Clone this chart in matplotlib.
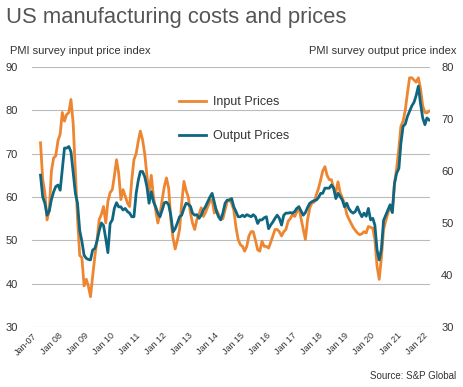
import matplotlib.pyplot as plt
import matplotlib.dates as mdates
import numpy as np
import pandas as pd

plt.rcParams['font.family'] = ['Liberation Sans', 'DejaVu Sans']

# monthly, May 2007 - Apr 2022
months = pd.date_range('2007-05-01', periods=180, freq='MS')

input_prices = [
    72.5, 64, 61, 54.7, 57, 66, 69, 69.5,                              # 2007
    73, 74.5, 79.5, 77.5, 79, 79.5, 82.5, 77, 66, 55, 46.5, 46,        # 2008
    39.5, 41, 39.5, 37, 41.7, 46.3, 50, 54.8, 56, 57.8, 54, 59,        # 2009
    61, 61.7, 64.8, 68.6, 65.5, 59.4, 61.7, 60.2, 58.6, 57.8, 64, 68.6,  # 2010
    70, 73, 75.2, 73.2, 70, 65, 61, 65, 60, 57, 54, 56,                # 2011
    59.4, 62.5, 64.4, 62, 54.8, 50.5, 48, 50, 52.5, 58.6, 63.6, 61.5,  # 2012
    60, 56.3, 54, 52.5, 54.8, 56, 57.5, 55.5, 56.5, 57.8, 59, 59.4,    # 2013
    56.3, 57, 56, 54.8, 55, 57, 59, 59.4, 58.5, 57, 53, 50.2,          # 2014
    49, 48.6, 47.5, 48.6, 51, 52, 52, 50, 47.8, 47.5, 49.8, 48.6,      # 2015
    48.6, 48.2, 49.5, 51, 52.5, 52.5, 52, 51, 52, 52.5, 54.4, 55,      # 2016
    56, 55.5, 56.5, 57.8, 55, 52.5, 50.2, 54.8, 57.5, 58.6, 58.8, 60.5,  # 2017
    62, 64, 66, 67, 65, 64, 64, 62, 61, 63.5, 61, 59.8,                # 2018
    58.5, 56, 55, 54, 53, 52.3, 51.7, 51.3, 51.5, 52, 51.7, 53.2,      # 2019
    53, 52.8, 50.2, 44, 41, 46, 52.5, 54.5, 56.3, 57.8, 56.5, 63,      # 2020
    66.7, 71.3, 76.3, 77.5, 80, 84, 87.5, 87.5, 87, 86.5, 87.5, 85,    # 2021
    81, 79.5, 79.4, 79.8,                                              # 2022
]

output_prices = [
    59.2, 55, 53.8, 51.5, 52.3, 54.5, 56, 57,                          # 2007
    57.3, 56.3, 60.2, 64.4, 64.4, 64.7, 63.7, 59.6, 55.7, 53.8, 48.5, 46.5,  # 2008
    43.8, 43.2, 43, 42.9, 44.8, 45.1, 46.5, 48.5, 50, 49.5, 47, 44.3,  # 2009
    49.9, 50.6, 52.8, 53.9, 53.1, 53.1, 52.5, 52.8, 52.2, 51.9, 51.2, 51.2,  # 2010
    55.7, 58.3, 59.9, 59.9, 58.9, 57, 53.8, 56, 54.1, 53.1, 51.9, 51.2,  # 2011
    52.5, 53.9, 54, 53.5, 51.5, 48.3, 48.9, 50, 51.2, 51.5, 52.8, 53.8,  # 2012
    53.6, 53.2, 51.9, 51.5, 51.6, 50.9, 51.5, 52.5, 53.2, 54.1, 55, 55.7,  # 2013
    54, 52.2, 51.2, 50.6, 51.9, 53.8, 54.4, 54.4, 54.7, 53.1, 52.2, 51.2,  # 2014
    51.2, 51.5, 51.2, 51.6, 51.4, 51.2, 51.6, 51.2, 49.9, 50.6, 50.6, 51,  # 2015
    51.2, 48.9, 49.6, 50.2, 50.9, 51.5, 50.9, 49.6, 51.5, 51.9, 51.9, 52,  # 2016
    51.9, 52.2, 52.8, 53.1, 52.3, 51.5, 52, 53, 53.8, 54.1, 54.3, 54.4,  # 2017
    54.9, 55.7, 55.7, 56.7, 56.7, 56.7, 57.3, 56.7, 54.7, 55.7, 55.1, 54.4,  # 2018
    53.1, 53.8, 52.8, 52.2, 51.9, 52.2, 53.1, 52, 51.2, 51.9, 51.3, 52.8,  # 2019
    50.6, 50.9, 49.6, 44.8, 42.9, 45, 50.5, 51.5, 52.5, 53.5, 52, 57.6,  # 2020
    59.6, 60.5, 65.3, 68.6, 69, 70.5, 71.5, 72.5, 73.2, 74.5, 76.3, 73,  # 2021
    70.2, 68.9, 70.2, 69.8,                                            # 2022
]

years = list(range(2007, 2023))
tick_labels = ['Jan-07'] + ['Jan %02d' % (y % 100) for y in years[1:]]

orange = '#EE8631'
teal = '#0E6680'
grey_text = '#333333'

fig = plt.figure(figsize=(4.63, 3.87), dpi=100)
ax = fig.add_axes([0.069, 0.155, 0.86, 0.672])
ax2 = ax.twinx()

ax.plot(months, input_prices, color=orange, lw=2.0, label='Input Prices', zorder=3)
ax2.plot(months, output_prices, color=teal, lw=2.0, label='Output Prices', zorder=4)

ax.set_ylim(30, 90)
ax.set_yticks(range(30, 91, 10))
ax2.set_ylim(30, 80)
ax2.set_yticks(range(30, 81, 10))

ax.set_xlim(pd.Timestamp('2007-01-01'), pd.Timestamp('2022-04-15'))
ticks = [pd.Timestamp('%d-01-01' % y) for y in years]
ax.set_xticks(ticks)
ax.set_xticklabels(tick_labels, rotation=45, ha='right', va='top',
                   rotation_mode='anchor', fontsize=6.5, color=grey_text)

# gridlines
for v in range(40, 91, 10):
    ax.axhline(v, color='#BBBBBB', lw=0.8, zorder=1)
ax.axhline(30, color='#E6E6E6', lw=1.0, zorder=1)

for a in (ax, ax2):
    for s in a.spines.values():
        s.set_visible(False)
    a.tick_params(length=0, labelsize=8, labelcolor=grey_text)
ax.tick_params(axis='y', pad=10)
ax2.tick_params(axis='y', pad=8)
ax.tick_params(axis='x', pad=3, labelsize=6.5)

ax2.set_zorder(ax.get_zorder() + 1)
ax2.patch.set_visible(False)

h1, l1 = ax.get_legend_handles_labels()
h2, l2 = ax2.get_legend_handles_labels()
ax2.legend(h1 + h2, l1 + l2, loc='upper left', bbox_to_anchor=(0.34, 0.93),
           frameon=False, fontsize=9, handlelength=2.2, handletextpad=0.55,
           labelspacing=1.75, labelcolor=grey_text)

fig.text(0.013, 0.955, 'US manufacturing costs and prices', fontsize=15.8,
         color='#555555', va='center', ha='left')
fig.text(0.022, 0.868, 'PMI survey input price index', fontsize=8,
         color=grey_text, va='center', ha='left')
fig.text(0.985, 0.868, 'PMI survey output price index', fontsize=8,
         color=grey_text, va='center', ha='right')
fig.text(0.985, 0.029, 'Source: S&P Global', fontsize=7,
         color=grey_text, va='center', ha='right')

fig.savefig('out.png', dpi=100)
